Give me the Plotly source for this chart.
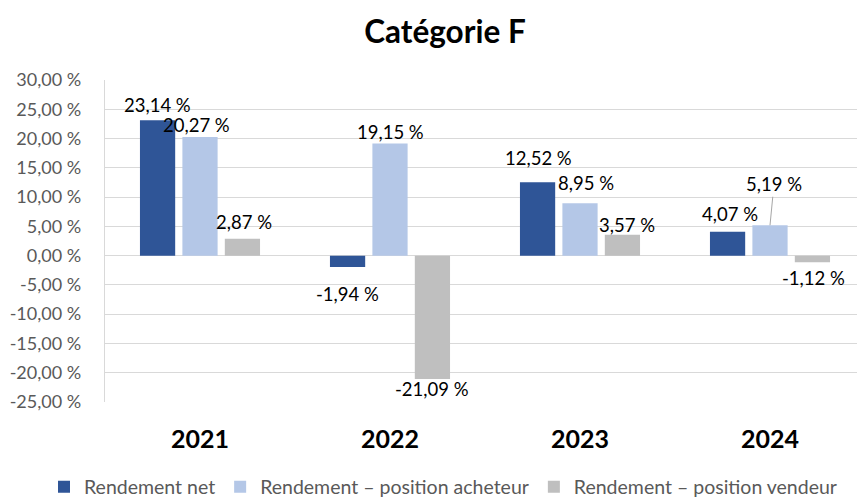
import plotly.graph_objects as go

years = ["2021", "2022", "2023", "2024"]
series_names = ["Rendement net", "Rendement – position acheteur", "Rendement – position vendeur"]
rendement_net = [23.14, -1.94, 12.52, 4.07]
position_acheteur = [20.27, 19.15, 8.95, 5.19]
position_vendeur = [2.87, -21.09, 3.57, -1.12]
y_ticks = [30, 25, 20, 15, 10, 5, 0, -5, -10, -15, -20, -25]

colors = ["#2F5597", "#B4C7E7", "#BFBFBF"]
series_values = [rendement_net, position_acheteur, position_vendeur]

FONT = "Lato"
W, H = 857, 491  # page body adds an 8px offset
ML, MR, MT, MB = 97, 0, 72, 97
PW, PH = W - ML - MR, H - MT - MB

def fmt(v):
    return f"{v:.2f}".replace(".", ",") + " %"

fig = go.Figure()
for name, vals, col in zip(series_names, series_values, colors):
    fig.add_trace(go.Bar(x=years, y=vals, name=name, marker=dict(color=col, line=dict(width=0)),
                         hoverinfo="skip"))

# label placement offsets (pixels) per series per year: (xshift extra, yshift)
slot = 42.5
label_offsets = [
    [(0, 15), (0, -27), (1, 24), (2, 18)],
    [(-4, 12), (0, 12), (6, 20), (3, 41)],
    [(1, 17), (-1, -10), (4, 10), (1, -16)],
]
annotations = []
for si, vals in enumerate(series_values):
    base = (si - 1) * slot
    for yi, v in enumerate(vals):
        dx, dy = label_offsets[si][yi]
        if si == 1 and yi == 3:
            annotations.append(dict(x=yi, y=v, xref="x", yref="y", text=fmt(v), showarrow=True,
                                    arrowhead=0, arrowwidth=1, arrowcolor="#A6A6A6",
                                    ax=dx + 1, ay=-dy, xshift=base,
                                    font=dict(family=FONT, size=18.5, color="#000000")))
        else:
            annotations.append(dict(x=yi, y=v, xref="x", yref="y", text=fmt(v), showarrow=False,
                                    xshift=base + dx, yshift=dy,
                                    font=dict(family=FONT, size=18.5, color="#000000")))

fig.update_layout(
    width=W, height=H,
    margin=dict(l=ML, r=MR, t=MT, b=MB, autoexpand=False),
    paper_bgcolor="white", plot_bgcolor="white",
    barmode="group", bargap=0.33, bargroupgap=0.17,
    title=dict(text="<b>Catégorie F</b>", x=437/W, xref="container", xanchor="center",
               y=1 - 24/H, yref="container", yanchor="middle",
               font=dict(family=FONT, size=31.5, color="#000000")),
    font=dict(family=FONT, color="#595959"),
    showlegend=True,
    legend=dict(orientation="h", x=(36 - ML)/PW, xref="paper", xanchor="left",
                y=(MT + PH - 479)/PH, yref="paper", yanchor="middle",
                font=dict(family=FONT, size=19.5, color="#595959"),
                itemwidth=30, traceorder="normal"),
    annotations=annotations,
    xaxis=dict(type="category", range=[-0.5, 3.5], tickfont=dict(family=FONT, size=25, color="#000000"),
               tickprefix="<b>", ticksuffix="</b>",
               showgrid=False, showline=False, ticks="", ticklabelstandoff=20, fixedrange=True),
    yaxis=dict(range=[-25, 30], tickvals=y_ticks, ticktext=[fmt(t) for t in y_ticks],
               tickfont=dict(family=FONT, size=18, color="#595959"),
               showgrid=True, gridcolor="#D9D9D9", gridwidth=1.3,
               zeroline=True, zerolinecolor="#D9D9D9", zerolinewidth=1.3,
               showline=True, linecolor="#D9D9D9", linewidth=1.3,
               ticks="", ticklabelstandoff=19, fixedrange=True),
)

fig.write_html("out.html")
